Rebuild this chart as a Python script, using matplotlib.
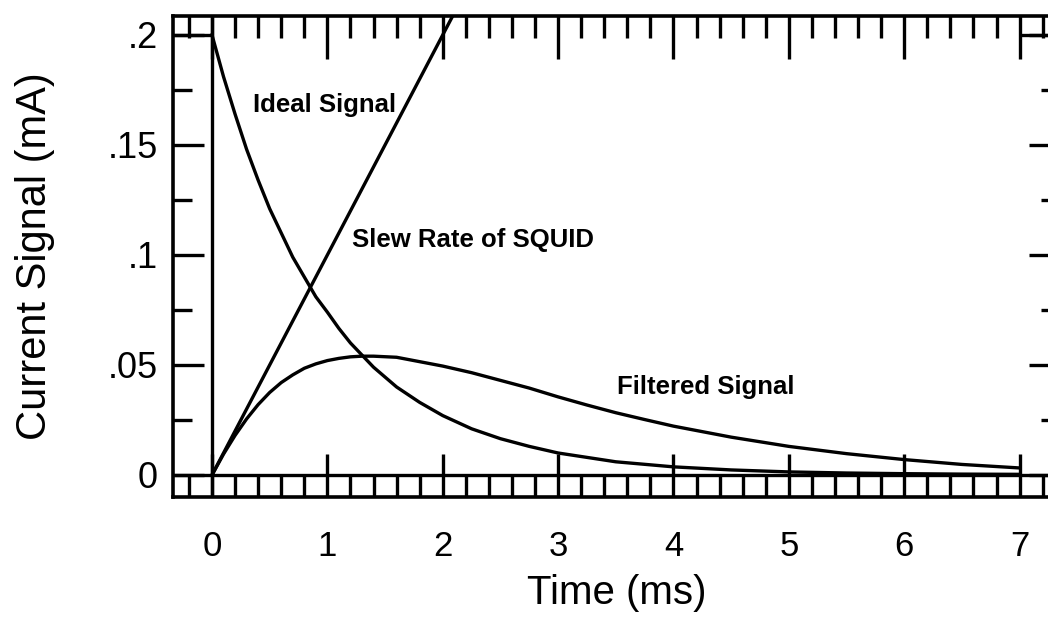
import matplotlib
matplotlib.use("Agg")
import matplotlib.pyplot as plt
from matplotlib.ticker import FixedLocator, MultipleLocator, FixedFormatter

plt.rcParams['font.family'] = ['Liberation Sans', 'DejaVu Sans']

# values
t_ideal = [0, 0.1, 0.2, 0.3, 0.4, 0.5, 0.6, 0.7, 0.8, 0.9, 1.0, 1.1, 1.2, 1.3, 1.4,
           1.6, 1.8, 2.0, 2.25, 2.5, 2.75, 3.0, 3.5, 4.0, 4.5, 5.0, 5.5, 6.0, 6.5, 7.0]
i_ideal = [0.200, 0.181, 0.164, 0.148, 0.134, 0.121, 0.110, 0.099, 0.090, 0.081,
           0.074, 0.0666, 0.060, 0.0545, 0.049, 0.040, 0.033, 0.027, 0.021, 0.0165,
           0.013, 0.010, 0.006, 0.0037, 0.0023, 0.0014, 0.0009, 0.0006, 0.0004, 0.0003]

t_slew = [0, 2.1]
i_slew = [0.0, 0.21]

t_filt = [0, 0.1, 0.2, 0.3, 0.4, 0.5, 0.6, 0.7, 0.8, 0.9, 1.0, 1.1, 1.2, 1.3, 1.4,
          1.6, 1.8, 2.0, 2.25, 2.5, 2.75, 3.0, 3.25, 3.5, 3.75, 4.0, 4.5, 5.0, 5.5,
          6.0, 6.5, 7.0]
i_filt = [0.0, 0.0095, 0.018, 0.0255, 0.032, 0.0375, 0.042, 0.0455, 0.0485, 0.0505,
          0.052, 0.053, 0.0537, 0.054, 0.054, 0.0535, 0.0515, 0.0495, 0.0465, 0.043,
          0.0395, 0.0355, 0.0318, 0.0283, 0.0252, 0.0222, 0.0172, 0.013, 0.0097,
          0.007, 0.0048, 0.0032]

x_major = [0, 1, 2, 3, 4, 5, 6, 7]
x_labels = ['0', '1', '2', '3', '4', '5', '6', '7']
y_major = [0, 0.05, 0.1, 0.15, 0.2]
y_labels = ['0', '.05', '.1', '.15', '.2']

xmin, xmax = -0.338, 7.35
ymin, ymax = -0.0100, 0.2086

fig = plt.figure(figsize=(10.48, 6.18), dpi=100)
ax = fig.add_axes([173 / 1048, 121 / 618, 887 / 1048, 481 / 618])

lw = 2.4
ax.plot(t_ideal, i_ideal, color='black', lw=lw)
ax.plot(t_slew, i_slew, color='black', lw=lw)
ax.plot(t_filt, i_filt, color='black', lw=lw)

# inner frame lines and corner boxes
ax.axvline(0, color='black', lw=2.4)
ax.axhline(0, color='black', lw=2.4)
ax.hlines(0.2, xmin, 0, color='black', lw=2.4)
ax.hlines(0.2, 7, xmax, color='black', lw=2.4)

ax.set_xlim(xmin, xmax)
ax.set_ylim(ymin, ymax)

ax.xaxis.set_major_locator(FixedLocator(x_major))
ax.xaxis.set_major_formatter(FixedFormatter(x_labels))
ax.xaxis.set_minor_locator(MultipleLocator(0.2))
ax.yaxis.set_major_locator(FixedLocator(y_major))
ax.yaxis.set_major_formatter(FixedFormatter(y_labels))
ax.yaxis.set_minor_locator(MultipleLocator(0.025))

ax.tick_params(axis='x', which='both', direction='in', top=True, bottom=True,
               width=2.4, labelsize=25, pad=24)
ax.tick_params(axis='x', which='major', length=31)
ax.tick_params(axis='x', which='minor', length=16)
ax.tick_params(axis='y', which='both', direction='in', left=True, right=True,
               width=2.4, labelsize=26, pad=11)
ax.tick_params(axis='y', which='major', length=22)
ax.tick_params(axis='y', which='minor', length=13.5)

for s in ax.spines.values():
    s.set_linewidth(2.6)

ax.set_xlabel('Time (ms)', fontsize=29, labelpad=8)
ax.set_ylabel('Current Signal (mA)', fontsize=30, labelpad=38)

ax.text(0.355, 0.168, 'Ideal Signal', fontsize=18.5, fontweight='bold',
        va='center', ha='left')
ax.text(1.21, 0.107, 'Slew Rate of SQUID', fontsize=18.5, fontweight='bold',
        va='center', ha='left')
ax.text(3.51, 0.040, 'Filtered Signal', fontsize=18.5, fontweight='bold',
        va='center', ha='left')

fig.savefig('out.png', dpi=100)
